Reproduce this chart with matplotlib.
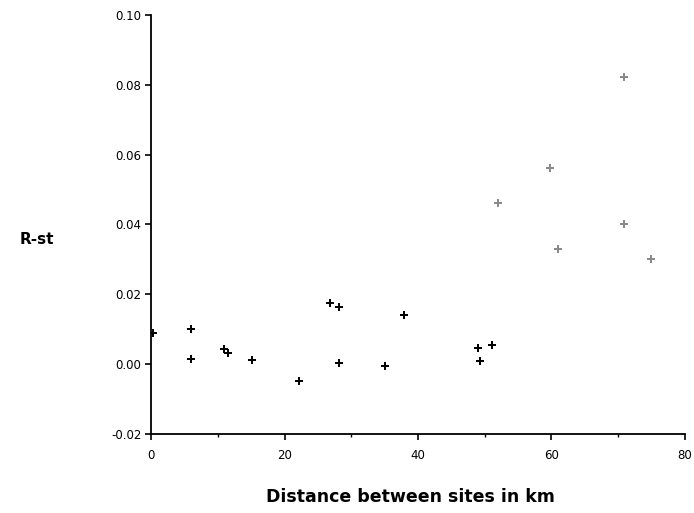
import matplotlib
matplotlib.use("Agg")
import matplotlib.pyplot as plt

# Black series (near sites)
x_black = [0.3, 6.0, 6.0, 10.9, 11.5, 15.2, 22.1, 26.8, 28.1, 28.1, 35.0, 37.9, 49.0, 49.3, 51.1]
y_black = [0.0090, 0.0100, 0.0014, 0.0043, 0.0032, 0.0013, -0.0049, 0.0176, 0.0163, 0.0002, -0.0004, 0.0140, 0.0047, 0.0009, 0.0054]
# Gray series (distant sites)
x_gray = [52.0, 59.8, 61.0, 70.9, 70.9, 74.9]
y_gray = [0.0462, 0.0561, 0.0330, 0.0821, 0.0402, 0.0301]

xticks = [0, 20, 40, 60, 80]
yticks = [-0.02, 0.00, 0.02, 0.04, 0.06, 0.08, 0.10]

fig = plt.figure(figsize=(6.94, 5.13), dpi=100)
ax = fig.add_axes([0.2176, 0.154, 0.7694, 0.817])

ax.plot(x_black, y_black, linestyle="none", marker="P", markersize=5.5,
        color="black", markeredgewidth=0)
ax.plot(x_gray, y_gray, linestyle="none", marker="P", markersize=5.5,
        color="#8a8a8a", markeredgewidth=0)

ax.set_xlim(0, 80)
ax.set_ylim(-0.02, 0.10)
ax.set_xticks(xticks)
ax.set_xticklabels([str(v) for v in xticks])
ax.set_xticks([10, 30, 50, 70], minor=True)
ax.set_yticks(yticks)
ax.set_yticklabels([f"{v:.2f}" for v in yticks])

for s in ["top", "right"]:
    ax.spines[s].set_visible(False)
for s in ["left", "bottom"]:
    ax.spines[s].set_linewidth(1.3)

ax.tick_params(axis="x", which="major", length=4, width=1.2, pad=7, labelsize=8.5)
ax.tick_params(axis="x", which="minor", length=2.5, width=1.0)
ax.tick_params(axis="y", which="major", length=4, width=1.2, pad=3, labelsize=8.5)

ax.set_xlabel("Distance between sites in km", fontsize=12.5, fontweight="bold")
ax.xaxis.set_label_coords(0.486, -0.128)
ax.set_ylabel("R-st", fontsize=11, fontweight="bold", rotation=0, va="center")
ax.yaxis.set_label_coords(-0.213, 0.463)

fig.savefig("out.png", dpi=100)
